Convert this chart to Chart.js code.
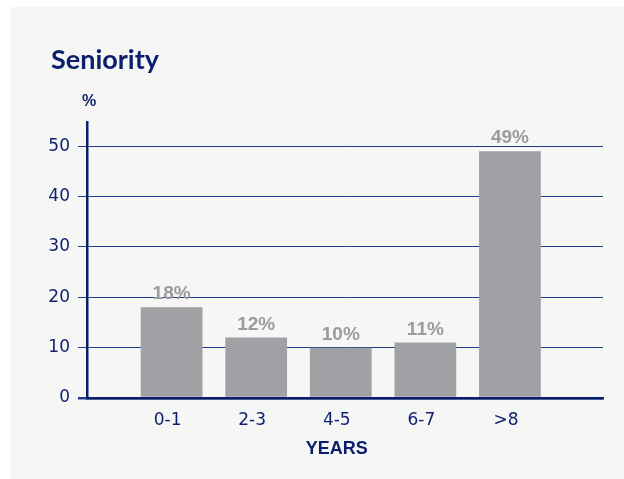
<!DOCTYPE html>
<html>
<head>
<meta charset="utf-8">
<script src="https://cdn.jsdelivr.net/npm/chart.js@4.4.1/dist/chart.umd.min.js"></script>
<style>
  html, body { margin: 0; padding: 0; background: #ffffff; }
  #panel { position: absolute; left: 10px; top: 7px; width: 614px; height: 472px; background: #f6f6f4; }
  canvas { display: block; }
</style>
</head>
<body>
<div id="panel"><canvas id="chart" width="614" height="472"></canvas></div>
<script>
const categories = ["0-1", "2-3", "4-5", "6-7", ">8"];
const shares = [18, 12, 10, 11, 49];
const yTicks = [0, 10, 20, 30, 40, 50];

const NAVY = "#0c1f6f";
const GRID = "#26388a";
const BAR = "#a0a1a4";
const LABEL_GREY = "#9a9b9f";
const X_LABEL_SHIFT = -4;

// free texts: heading, unit above the y axis, x axis name, bar values
const textPlugin = {
    id: "texts",
    afterDraw(chart) {
        const ctx = chart.ctx;
        const area = chart.chartArea;
        const x = chart.scales.x;
        ctx.save();

        ctx.fillStyle = NAVY;
        ctx.textAlign = "left";
        ctx.textBaseline = "alphabetic";
        ctx.font = "bold 27px Lato";
        ctx.fillText("Seniority", 41, 62);

        ctx.textAlign = "center";
        ctx.font = "bold 16px 'Liberation Sans'";
        ctx.fillText("%", area.left + 2, area.top - 16);

        ctx.font = "bold 18px 'Liberation Sans'";
        const mid = (x.getPixelForValue(1) + x.getPixelForValue(categories.length)) / 2;
        ctx.fillText("YEARS", mid + X_LABEL_SHIFT, area.bottom + 56);

        ctx.fillStyle = LABEL_GREY;
        ctx.font = "bold 19px 'Liberation Sans'";
        chart.getDatasetMeta(0).data.forEach((bar, i) => {
            ctx.fillText(shares[i] + "%", bar.x, bar.y - 8);
        });
        ctx.restore();
    }
};

const ctx = document.getElementById("chart").getContext("2d");
const chart = new Chart(ctx, {
    type: "bar",
    data: {
        datasets: [
            {
                data: categories.map((c, i) => ({ x: i + 1, y: shares[i] })),
                backgroundColor: BAR,
                borderWidth: 0,
                barPercentage: 0.73,
                categoryPercentage: 1
            }
        ]
    },
    options: {
        responsive: false,
        animation: false,
        layout: { padding: { top: 115, right: 21, left: 0, bottom: 0 } },
        plugins: {
            legend: { display: false },
            tooltip: { enabled: false }
        },
        scales: {
            x: {
                type: "linear",
                min: 0,
                max: 6.1,
                offset: false,
                z: 1,
                grid: { display: false },
                border: { display: true, color: NAVY, width: 2.5 },
                afterBuildTicks: (scale) => {
                    scale.ticks = categories.map((c, i) => ({ value: i + 1 }));
                },
                afterFit: (scale) => { scale.height = 81; },
                ticks: {
                    color: NAVY,
                    font: { family: "DejaVu Sans", size: 17 },
                    padding: 4,
                    labelOffset: X_LABEL_SHIFT,
                    maxRotation: 0,
                    autoSkip: false,
                    callback: (value, index) => categories[index]
                }
            },
            y: {
                min: 0,
                max: 54.8,
                afterBuildTicks: (scale) => {
                    scale.ticks = yTicks.map((v) => ({ value: v }));
                },
                afterFit: (scale) => { scale.width = 77; },
                grid: {
                    color: GRID,
                    tickColor: GRID,
                    tickLength: 9,
                    lineWidth: (c) => (c.tick && c.tick.value === 0 ? 2.5 : 1)
                },
                border: { display: true, color: NAVY, width: 2.5 },
                ticks: {
                    color: NAVY,
                    font: { family: "DejaVu Sans", size: 17 },
                    padding: 8
                }
            }
        }
    },
    plugins: [textPlugin]
});
</script>
</body>
</html>
